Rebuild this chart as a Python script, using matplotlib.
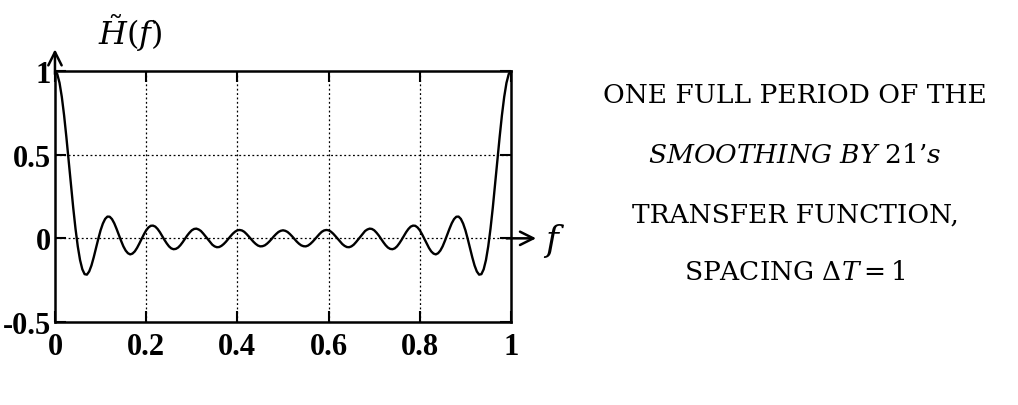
import numpy as np
import matplotlib
matplotlib.use("Agg")
import matplotlib.pyplot as plt

plt.rcParams['font.family'] = ['DejaVu Serif']
plt.rcParams['mathtext.fontset'] = 'dejavuserif'

# frequency samples, step 0.005 over one period
freq = np.linspace(0, 1, 201)

# transfer function, first half 0..0.5
h_first = [1.0, 0.982, 0.929, 0.845, 0.735, 0.605, 0.464, 0.321, 0.183, 0.058,
           -0.048, -0.130, -0.185, -0.214, -0.217, -0.198, -0.162, -0.113, -0.058, -0.003,
           0.048, 0.088, 0.116, 0.130, 0.129, 0.115, 0.090, 0.057, 0.021, -0.015,
           -0.048, -0.073, -0.089, -0.096, -0.091, -0.078, -0.057, -0.031, -0.003, 0.024,
           0.048, 0.065, 0.075, 0.076, 0.070, 0.056, 0.037, 0.014, -0.009, -0.030,
           -0.048, -0.060, -0.065, -0.063, -0.055, -0.041, -0.023, -0.003, 0.017, 0.034,
           0.048, 0.056, 0.058, 0.053, 0.044, 0.029, 0.012, -0.006, -0.023, -0.038,
           -0.048, -0.053, -0.052, -0.045, -0.034, -0.020, -0.003, 0.013, 0.028, 0.040,
           0.048, 0.050, 0.047, 0.039, 0.026, 0.011, -0.005, -0.020, -0.033, -0.043,
           -0.048, -0.047, -0.042, -0.032, -0.019, -0.004, 0.012, 0.026, 0.038, 0.045,
           0.048]
# second half 0.505..1
h_second = [0.045, 0.038, 0.026, 0.012, -0.004, -0.019, -0.032, -0.042, -0.047, -0.048,
            -0.043, -0.033, -0.020, -0.005, 0.011, 0.026, 0.039, 0.047, 0.050, 0.048,
            0.040, 0.028, 0.013, -0.003, -0.020, -0.034, -0.045, -0.052, -0.053, -0.048,
            -0.038, -0.023, -0.006, 0.012, 0.029, 0.044, 0.053, 0.058, 0.056, 0.048,
            0.034, 0.017, -0.003, -0.023, -0.041, -0.055, -0.063, -0.065, -0.060, -0.048,
            -0.030, -0.009, 0.014, 0.037, 0.056, 0.070, 0.076, 0.075, 0.065, 0.048,
            0.024, -0.003, -0.031, -0.057, -0.078, -0.091, -0.096, -0.089, -0.073, -0.048,
            -0.015, 0.021, 0.057, 0.090, 0.115, 0.129, 0.130, 0.116, 0.088, 0.048,
            -0.003, -0.058, -0.113, -0.162, -0.198, -0.217, -0.214, -0.185, -0.130, -0.048,
            0.058, 0.183, 0.321, 0.464, 0.605, 0.735, 0.845, 0.929, 0.982, 1.0]
h_vals = h_first + h_second

xticks = [0, 0.2, 0.4, 0.6, 0.8, 1]
xtick_labels = ['0', '0.2', '0.4', '0.6', '0.8', '1']
yticks = [-0.5, 0, 0.5, 1]
ytick_labels = ['-0.5', '0', '0.5', '1']

caption = ['ONE FULL PERIOD OF THE',
           r'$SMOOTHING\ BY$ 21’$s$',
           'TRANSFER FUNCTION,',
           r'SPACING $\Delta T = 1$']

fig = plt.figure(figsize=(10.18, 4.06), dpi=100)
ax = fig.add_axes([0.054, 0.2044, 0.448, 0.6183])

ax.plot(freq, h_vals, color='black', lw=1.7)

ax.set_xlim(0, 1)
ax.set_ylim(-0.5, 1)
ax.set_xticks(xticks)
ax.set_xticklabels(xtick_labels)
ax.set_yticks(yticks)
ax.set_yticklabels(ytick_labels)
for lab in ax.get_xticklabels() + ax.get_yticklabels():
    lab.set_family('Liberation Serif')
    lab.set_fontweight('bold')
    lab.set_fontsize(22)
ax.tick_params(direction='in', length=8, width=1.5, top=True, right=True)
ax.tick_params(axis='y', pad=3)
ax.tick_params(axis='x', pad=7)

for x in [0.2, 0.4, 0.6, 0.8]:
    ax.axvline(x, color='black', lw=0.9, ls=(0, (1.5, 2.0)), zorder=0)
for y in [0, 0.5]:
    ax.axhline(y, color='black', lw=0.9, ls=(0, (1.5, 2.0)), zorder=0)

for sp in ax.spines.values():
    sp.set_linewidth(1.8)

# axis arrows
ax.annotate('', xy=(0, 1.13), xytext=(0, 0.98), xycoords='data',
            arrowprops=dict(arrowstyle='->', lw=1.8, color='black',
                            mutation_scale=24, shrinkA=0, shrinkB=0),
            annotation_clip=False)
ax.annotate('', xy=(1.055, 0), xytext=(0.99, 0), xycoords='data',
            arrowprops=dict(arrowstyle='->', lw=1.8, color='black',
                            mutation_scale=24, shrinkA=0, shrinkB=0),
            annotation_clip=False)
ax.text(1.07, -0.01, r'$f$', fontsize=25, va='center', ha='left')
ax.text(0.095, 1.11, r'$\tilde{H}(f)$', fontsize=23, va='bottom', ha='left')

ys = [0.766, 0.618, 0.470, 0.330]
for txt, y in zip(caption, ys):
    fig.text(0.781, y, txt, ha='center', va='center', fontsize=19)

fig.savefig('out.png', dpi=100)
